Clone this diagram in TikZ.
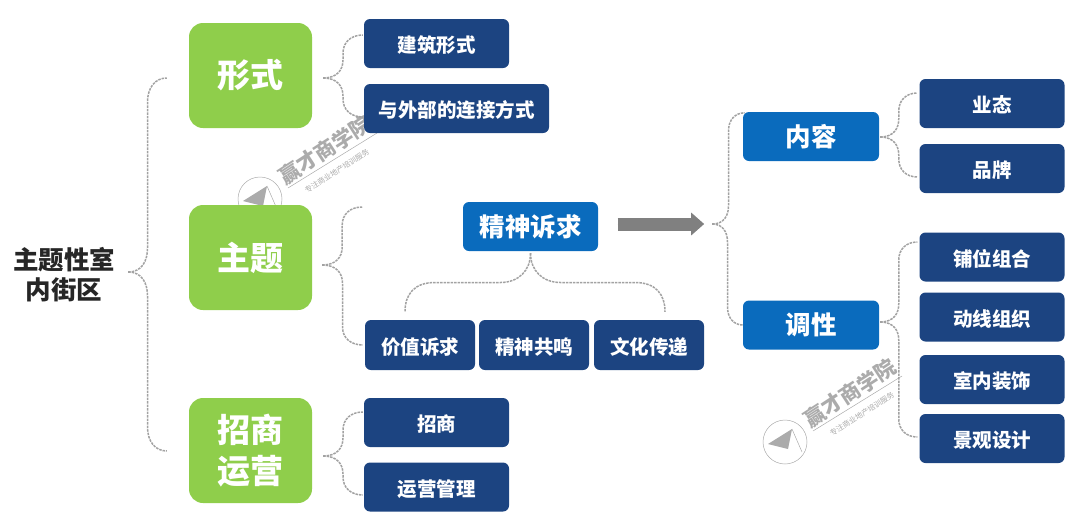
\documentclass[tikz,border=0pt]{standalone}
\usepackage{fontspec}
\setmainfont{Noto Sans CJK SC}
\usetikzlibrary{calc,arrows.meta}

\definecolor{leafgreen}{HTML}{8FCE4B}
\definecolor{deepnavy}{HTML}{1C4481}
\definecolor{midblue}{HTML}{0A6BBD}
\definecolor{linegray}{HTML}{A2A2A2}
\definecolor{markgray}{HTML}{ABABAB}

% one arm of a sideways brace: radius, tip, end
\newcommand{\bracearm}[3][18pt]{%
  \draw[link] let \p1=(#2), \p2=(#3), \n1={0.5*(\x1+\x2)}, \n2={#1*(\y2-\y1)/abs(\y2-\y1)} in
    (\p1) .. controls (\x1+0.7*\n1-0.7*\x1,\y1) and (\n1,\y1+0.45*\n2) .. (\n1,\y1+\n2)
    -- (\n1,\y2-\n2) .. controls (\n1,\y2-0.4*\n2) and (\n1+0.4*\x2-0.4*\n1,\y2) .. (\p2);
}
% one arm of the brace that opens downwards: tip, end
\newcommand{\bracedown}[2]{%
  \draw[link] let \p1=(#1), \p2=(#2), \n1={0.5*(\y1+\y2)}, \n2={30pt*(\x2-\x1)/abs(\x2-\x1)} in
    (\p1) .. controls (\x1,\n1+12pt) and (\x1+0.4*\n2,\n1) .. (\x1+\n2,\n1)
    -- (\x2-\n2,\n1) .. controls (\x2-0.3*\n2,\n1) and (\x2,\n1-12pt) .. (\p2);
}
% watermark: name, x, y of the title
\newcommand{\watermark}[3]{%
  \begin{scope}[shift={(#2,#3)}]
    \node[marktitle] (#1title) at (0,0) {赢才商学院};
    \node[marksub] (#1sub) at (12,21) {专注商业地产培训服务};
    \draw[markgray, line width=0.5pt] (-37,38) -- (52,-17);
    \node[draw=markgray, circle, line width=0.5pt, minimum size=44pt, inner sep=0pt] (#1logo) at (-65,49) {};
    \fill[markgray] (-82,51) -- (-58,36) -- (-62,56) -- cycle;
    \draw[markgray, line width=0.5pt] (-58,36) -- (-48,59);
  \end{scope}
}

\begin{document}
\begin{tikzpicture}[x=1pt, y=-1pt,
  link/.style={draw=linegray, line width=1.5pt, dash pattern=on 2.5pt off 1pt},
  greenblock/.style={fill=leafgreen, text=white, font=\fontsize{33}{41}\selectfont\bfseries, align=center, rounded corners=14pt, minimum width=123pt, minimum height=105pt, inner sep=0pt},
  navyblock/.style={fill=deepnavy, text=white, font=\fontsize{19.5}{24}\selectfont\bfseries, rounded corners=6pt, minimum width=145pt, minimum height=49pt, inner sep=0pt, text height=20pt, text depth=2pt},
  blueblock/.style={fill=midblue, text=white, font=\fontsize{25.5}{30}\selectfont\bfseries, rounded corners=6pt, minimum width=136pt, minimum height=49pt, inner sep=0pt},
  marktitle/.style={text=markgray, font=\fontsize{21}{25}\selectfont\bfseries, rotate=33, inner sep=0pt},
  marksub/.style={text=markgray, font=\fontsize{7.5}{9}\selectfont, rotate=33, inner sep=0pt}]

  \useasboundingbox (0,0) rectangle (1080,520);

  % Watermarks
  \watermark{A}{325}{150}
  \watermark{B}{850}{393}

  % Root
  \node[text=black!85, font=\fontsize{25.5}{30}\selectfont\bfseries, align=center, inner sep=0pt] (root) at (64,275) {主题性室\\内街区};

  % Green column
  \node[greenblock] (G1) at (250.5,75.5) {形式};
  \node[greenblock, below of=G1, node distance=182pt] (G2) {主题};
  \node[greenblock, below of=G2, node distance=193pt] (G3) {招商\\运营};

  % Second column
  \node[navyblock] (T1) at (436.5,43.5) {建筑形式};
  \node[navyblock, minimum width=185pt] (T2) at (456.5,108.5) {与外部的连接方式};
  \node[navyblock] (T3) at (436.5,422.5) {招商};
  \node[navyblock, below of=T3, node distance=64.5pt] (T4) {运营管理};

  % Middle part
  \node[blueblock, minimum width=135pt] (S1) at (530.5,226.5) {精神诉求};
  \node[navyblock, minimum width=110pt, minimum height=50pt] (V1) at (420,345) {价值诉求};
  \node[navyblock, minimum width=110pt, minimum height=50pt, right of=V1, node distance=114pt] (V2) {精神共鸣};
  \node[navyblock, minimum width=110pt, minimum height=50pt, right of=V2, node distance=115pt] (V3) {文化传递};

  % Right part
  \node[blueblock] (C1) at (811,136.5) {内容};
  \node[blueblock, below of=C1, node distance=188.5pt] (C2) {调性};
  \node[navyblock] (R1) at (992,103.5) {业态};
  \node[navyblock, below of=R1, node distance=65pt] (R2) {品牌};
  \node[navyblock] (R3) at (992,257) {铺位组合};
  \node[navyblock, below of=R3, node distance=60pt] (R4) {动线组织};
  \node[navyblock, below of=R4, node distance=62.5pt] (R5) {室内装饰};
  \node[navyblock, below of=R5, node distance=59pt] (R6) {景观设计};

  % Brace tips and free ends
  \coordinate (rootTip) at ($(root.east)+(13,-3)$);
  \coordinate (rootTop) at ($(G1.west)+(-22,2.5)$);
  \coordinate (rootBot) at ($(G3.west)+(-22,0.5)$);
  \coordinate (G1Tip) at ($(G1.east)+(11,2.5)$);
  \coordinate (G2Tip) at ($(G2.east)+(10,7.5)$);
  \coordinate (G2Top) at ($(G2.east)+(50,-50.5)$);
  \coordinate (G3Tip) at ($(G3.east)+(11,5.5)$);
  \coordinate (S1Tip) at ($(S1.south)+(0,2)$);
  \coordinate (S1Left) at ($(V1.north)+(-15,-8)$);
  \coordinate (S1Right) at ($(V3.north)+(16,-8)$);
  \coordinate (arrowEnd) at ($(S1.east)+(106,-2.5)$);
  \coordinate (contTip) at ($(arrowEnd)+(8,0)$);
  \coordinate (C1Tip) at ($(C1.east)+(1,0.5)$);
  \coordinate (C2Tip) at ($(C2.east)+(1,-3)$);

  % Left braces
  \bracearm[24pt]{rootTip}{rootTop}
  \bracearm[24pt]{rootTip}{rootBot}
  \bracearm{G1Tip}{$(T1.west)+(-1,-8.5)$}
  \bracearm{G1Tip}{$(T2.west)+(-1,8.5)$}
  \bracearm{G2Tip}{G2Top}
  \bracearm{G2Tip}{$(V1.west)+(-2,0)$}
  \bracearm{G3Tip}{$(T3.west)+(-1,-10.5)$}
  \bracearm{G3Tip}{$(T4.west)+(-1,8)$}

  % Middle brace and arrow
  \bracedown{S1Tip}{S1Left}
  \bracedown{S1Tip}{S1Right}
  \draw[-{Triangle[length=13pt, width=22pt]}, draw=gray, fill=gray, line width=13pt, shorten <=19.5pt] ($(S1.east)+(0,-2.5)$) -- (arrowEnd);

  % Right braces
  \bracearm{contTip}{$(C1.north west)+(2,1)$}
  \bracearm{contTip}{C2.west}
  \bracearm{C1Tip}{$(R1.west)+(-2,-10.5)$}
  \bracearm{C1Tip}{$(R2.west)+(-2,8.5)$}
  \bracearm{C2Tip}{$(R3.west)+(-2,-15)$}
  \bracearm{C2Tip}{$(R6.west)+(-2,-1.5)$}

\end{tikzpicture}
\end{document}
